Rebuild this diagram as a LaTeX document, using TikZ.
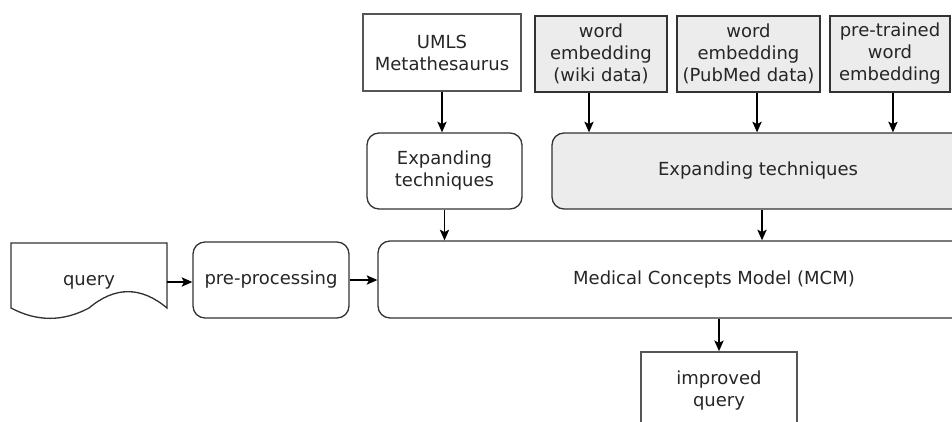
\documentclass[tikz,border=0pt]{standalone}
\usepackage{fontspec}
\setmainfont{DejaVu Sans}
\usetikzlibrary{arrows.meta}
\definecolor{edge}{HTML}{333333}
\definecolor{paleedge}{HTML}{555555}
\definecolor{shade}{HTML}{ECECEC}
\definecolor{ink}{HTML}{262626}
\begin{document}
\begin{tikzpicture}[x=0.75pt,y=-0.75pt,
  wh/.style 2 args={minimum width=#1*0.75pt,minimum height=#2*0.75pt},
  base/.style={inner sep=0pt,align=center,text=ink,
    font=\fontsize{13.5}{16.5}\selectfont},
  plainbox/.style={base,draw=paleedge,line width=1.3pt,fill=white},
  srcbox/.style={base,draw=edge,line width=1pt,fill=shade},
  roundbox/.style={base,draw=edge,line width=1pt,rounded corners=9pt,fill=white},
  shadebox/.style={roundbox,fill=shade},
  arr/.style={draw=black,line width=1pt,-{Stealth[length=8pt,width=7pt,inset=1.8pt]}}]

\useasboundingbox (0,0) rectangle (952,421);
\clip (0,0) rectangle (952,421);
\fill[white] (0,0) rectangle (952,421);

% knowledge sources
\node[plainbox,wh={158}{77}] (umls) at (442,52.5) {UMLS\\Metathesaurus};
\node[srcbox,wh={132}{76}] (wiki) at (601,54) {word\\embedding\\(wiki data)};
\node[srcbox,wh={143}{76}] (pubmed) at (748.5,54) {word\\embedding\\(PubMed data)};
\node[srcbox,wh={120}{76}] (pretr) at (890,54) {pre-trained\\word\\embedding};

% expansion stages
\node[roundbox,wh={155}{76}] (sexp) at (444.5,171) {Expanding\\techniques};
\node[shadebox,wh={412}{76}] (bexp) at (758,171) {Expanding techniques};

% query document with wavy lower edge
\draw[draw=edge,line width=1pt,fill=white]
  (11,243) -- (167,243) -- (167,308)
  .. controls (141,286.2) and (115,286.2) .. (89,308)
  .. controls (63,321.8) and (37,321.8) .. (11,308) -- cycle;
\node[base,wh={156}{60}] (query) at (89,282) {query};

\node[roundbox,wh={156}{76}] (pre) at (271,280) {pre-processing};
\node[roundbox,wh={672}{77}] (mcm) at (714,279.5) {Medical Concepts Model (MCM)};
\node[plainbox,wh={156}{78}] (improved) at (719,391) {improved\\query};

% connectors
\draw[arr] (query.east) -- (query.east -| pre.west);
\draw[arr] (pre.east) -- (pre.east -| mcm.west);
\draw[arr] (umls.south) -- (umls.south |- sexp.north);
\draw[arr] (sexp.south) -- (sexp.south |- mcm.north);
\draw[arr] ([xshift=-9pt]wiki.south) coordinate (w1) -- (w1 |- bexp.north);
\draw[arr] ([xshift=6.4pt]pubmed.south) coordinate (p1) -- (p1 |- bexp.north);
\draw[arr] ([xshift=2.2pt]pretr.south) coordinate (t1) -- (t1 |- bexp.north);
\draw[arr] ([xshift=3pt]bexp.south) coordinate (b1) -- (b1 |- mcm.north);
\draw[arr] (improved.north |- mcm.south) -- (improved.north);
\end{tikzpicture}
\end{document}
